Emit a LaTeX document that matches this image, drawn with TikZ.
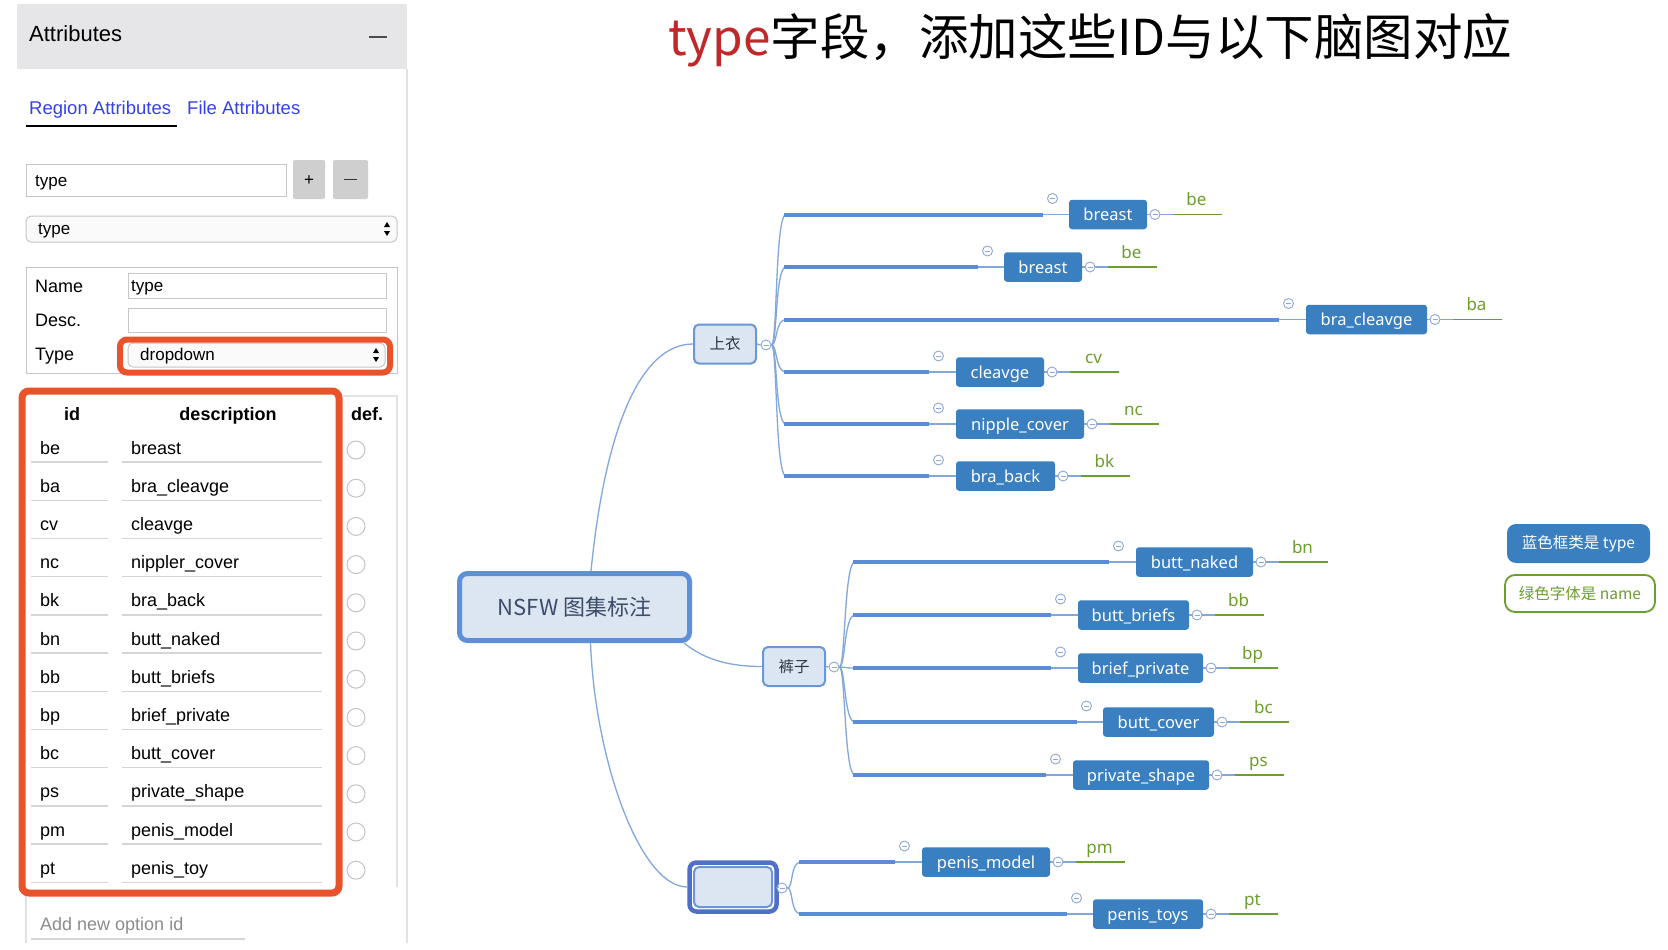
\documentclass[tikz,border=0pt]{standalone}
\usepackage{fontspec}
\setmainfont{Liberation Sans}
\newfontfamily\cjk{Noto Sans CJK SC}
\newfontfamily\mmfont{Noto Sans}
\definecolor{hdrgray}{HTML}{E6E6E8}
\definecolor{panelline}{HTML}{E2E2E2}
\definecolor{uiblue}{HTML}{3540EC}
\definecolor{boxline}{HTML}{C6C6C6}
\definecolor{btngray}{HTML}{CFCFCF}
\definecolor{redbox}{HTML}{E8532B}
\definecolor{rowline}{HTML}{D5D5D5}
\definecolor{radiocol}{HTML}{C4C4C4}
\definecolor{mmblue}{HTML}{3A7FC0}
\definecolor{mmline}{HTML}{5B8DD6}
\definecolor{mmthin}{HTML}{82A7DD}
\definecolor{mmfill}{HTML}{DCE6F3}
\definecolor{mmborder}{HTML}{6A97D8}
\definecolor{rootborder}{HTML}{5E90DA}
\definecolor{selblue}{HTML}{4F70C4}
\definecolor{collcol}{HTML}{8DA7D8}
\definecolor{namegreen}{HTML}{6C9E2E}
\definecolor{titlered}{HTML}{C0282A}
\definecolor{roottext}{HTML}{3D4B68}
\definecolor{grptext}{HTML}{2F3642}
\begin{document}
\begin{tikzpicture}[x=1pt,y=-1pt,
  ui/.style={anchor=base west,inner sep=0pt,font=\fontsize{18}{20}\selectfont},
  uibold/.style={anchor=base,inner sep=0pt,font=\bfseries\fontsize{18}{20}\selectfont},
  field/.style={draw=boxline,line width=1pt},
  rowul/.style={draw=rowline,line width=1.4pt},
  radio/.style={circle,draw=radiocol,line width=1pt,minimum size=18pt,inner sep=0pt},
  typebox/.style={fill=mmblue,rounded corners=3pt,text=white,inner sep=0pt,minimum height=29.5pt,
    font=\mmfont\fontsize{16.5}{20}\selectfont,text height=14pt,text depth=2pt},
  namelbl/.style={inner sep=0pt,text=namegreen,font=\mmfont\fontsize{17}{20}\selectfont,text height=14pt,text depth=2pt},
  grpbox/.style={draw=mmborder,fill=mmfill,line width=2pt,rounded corners=5pt,minimum width=62pt,minimum height=39pt,
    inner sep=0pt,text=grptext,font=\cjk\fontsize{15.5}{17}\selectfont},
  coll/.style={circle,draw=collcol,line width=0.9pt,fill=white,minimum size=10pt,inner sep=0pt,
    path picture={\draw[collcol,line width=0.8pt] ([xshift=-2.5pt]path picture bounding box.center) -- ([xshift=2.5pt]path picture bounding box.center);}},
  thinln/.style={draw=mmthin,line width=1.3pt},
  thickln/.style={draw=mmline,line width=4pt},
  greenln/.style={draw=namegreen,line width=1.4pt}]
\useasboundingbox (0,0) rectangle (1668,950);
\fill[white] (0,0) rectangle (1668,950);

% ---------------- left panel ----------------
\fill[hdrgray] (17,4) rectangle (407,69);
\node[anchor=base west,inner sep=0pt,font=\fontsize{22}{24}\selectfont] (hdr) at (29,42) {Attributes};
\draw[line width=2.8pt,color=black!70] (369,37) -- (387,37);
\draw[panelline,line width=1.2pt] (407,69) -- (407,943);

\node[ui,text=uiblue,font=\fontsize{18.5}{20}\selectfont] (tab1) at (29,114.5) {Region Attributes};
\node[ui,text=uiblue,font=\fontsize{18.5}{20}\selectfont] (tab2) at (187,114.5) {File Attributes};
\draw[line width=2pt] (26,126) -- (177,126);

\draw[field] (26,164) rectangle (286,196);
\node[ui,font=\fontsize{17}{20}\selectfont] (tf) at (35,186.5) {type};
\fill[btngray,rounded corners=2pt] (293,160) rectangle (325,199);
\node[inner sep=0pt,font=\fontsize{17}{20}\selectfont] (plus) at (309,181) {+};
\fill[btngray,rounded corners=2pt] (333,160) rectangle (368,199);
\draw[line width=1.2pt,black!80] (344,179.5) -- (357,179.5);

\draw[field,rounded corners=5pt,fill=black!2] (26,216) rectangle (397,242);
\node[ui,font=\fontsize{17}{20}\selectfont] (dd1) at (38,234.5) {type};
\fill (384,227) -- (390,227) -- (387,222) -- cycle;
\fill (384,231) -- (390,231) -- (387,236) -- cycle;

\draw[field] (26,267) rectangle (397,373);
\node[ui] (lname) at (35,292) {Name};
\draw[field] (128,273) rectangle (386,298);
\node[ui,font=\fontsize{17}{20}\selectfont] (vname) at (131,291.5) {type};
\node[ui] (ldesc) at (35,326) {Desc.};
\draw[field] (128,308) rectangle (386,332);
\node[ui] (ltype) at (35,360) {Type};
\draw[field,rounded corners=5pt,fill=black!2] (128,343) rectangle (385,367);
\node[ui,font=\fontsize{17}{20}\selectfont] (vtype) at (140,360.5) {dropdown};
\fill (373,353) -- (379,353) -- (376,348) -- cycle;
\fill (373,357) -- (379,357) -- (376,362) -- cycle;
\draw[redbox,line width=6pt,rounded corners=7pt] (120,339.5) rectangle (390,372.5);

% table
\draw[panelline,line width=1.2pt] (343,396) -- (397,396) -- (397,887);
\draw[panelline,line width=1.2pt] (26,893) -- (26,943);
\node[uibold] (hid) at (72,420.5) {id};
\node[uibold] (hdesc) at (228,420.5) {description};
\node[uibold] (hdef) at (367,420.5) {def.};
\foreach \i/\idt/\dsc in {0/be/breast,1/ba/bra\_cleavge,2/cv/cleavge,3/nc/nippler\_cover,4/bk/bra\_back,
  5/bn/butt\_naked,6/bb/butt\_briefs,7/bp/brief\_private,8/bc/butt\_cover,9/ps/private\_shape,
  10/pm/penis\_model,11/pt/penis\_toy}{
  \pgfmathsetmacro\ry{448+38.2*\i}
  \node[ui] (id\i) at (40,{\ry+6}) {\idt};
  \node[ui] (ds\i) at (131,{\ry+6}) {\dsc};
  \draw[rowul] (31,{\ry+14}) -- (108,{\ry+14});
  \draw[rowul] (122,{\ry+14}) -- (322,{\ry+14});
  \node[radio] (rd\i) at (356,{\ry+2}) {};
}
\draw[redbox,line width=7pt,rounded corners=7pt] (22,391) rectangle (339,893);
\node[ui,text=black!45] (addnew) at (40,930) {Add new option id};
\draw[rowul] (31,939) -- (245,939);

% ---------------- title ----------------
\node[anchor=base west,inner sep=0pt,font=\cjk\fontsize{49.5}{55}\selectfont] (title) at (668,56)
  {\textcolor{titlered}{type}字段，添加这些ID与以下脑图对应};

% ---------------- mind map ----------------
\node[draw=rootborder,fill=mmfill,line width=5pt,rounded corners=8pt,minimum width=230pt,minimum height=67pt,
  inner sep=0pt,text=roottext,font=\cjk\fontsize{22}{26}\selectfont] (root) at (574.5,607) {NSFW 图集标注};
\node[grpbox] (sy) at (725,344) {上衣};
\node[grpbox] (kz) at (794,666.5) {裤子};
\node[draw=selblue,fill=white,line width=4.5pt,rounded corners=7pt,minimum width=87pt,minimum height=49pt,inner sep=0pt] (emp) at (733,887) {};
\node[draw=mmborder,fill=mmfill,line width=2pt,rounded corners=5pt,minimum width=78pt,minimum height=40pt,inner sep=0pt] (empin) at (733,887) {};

\draw[thinln] ([xshift=16.5pt]root.north) .. controls (605,430) and (640,344) .. (sy.west);
\draw[thinln] ([xshift=-8pt]root.south east) .. controls (705,660) and (730,666.5) .. (kz.west);
\draw[thinln] ([xshift=16pt]root.south) .. controls (595,760) and (640,887) .. (emp.west);

\node[coll] (cA) at (766,345) {};
\node[coll] (cB) at (834,667) {};
\node[coll] (cC) at (782,888) {};
\draw[thinln] (sy.east) -- (cA.west);
\draw[thinln] (kz.east) -- (cB.west);
\draw[thinln] (emp.east) -- (cC.west);

\foreach \nid/\yy/\te/\bl/\br/\txt/\nm/\org/\ts in {
  b1/214.5/1043/1069/1147/breast/be/cA/784,
  b2/267/978/1004/1082/breast/be/cA/784,
  b3/319.5/1279/1306/1427/bra\_cleavge/ba/cA/784,
  b4/372/929/956/1044/cleavge/cv/cA/784,
  b5/424/929/956/1084/nipple\_cover/nc/cA/784,
  b6/476/929/956/1055/bra\_back/bk/cA/784,
  p1/562/1109/1136/1253/butt\_naked/bn/cB/853,
  p2/615/1051/1078/1189/butt\_briefs/bb/cB/853,
  p3/668/1051/1078/1203/brief\_private/bp/cB/853,
  p4/722/1077/1103/1214/butt\_cover/bc/cB/853,
  p5/775/1046/1073/1209/private\_shape/ps/cB/853,
  e1/862/895/922/1050/penis\_model/pm/cC/799,
  e2/914/1067/1093/1203/penis\_toys/pt/cC/799}{
  \node[typebox,minimum width={(\br-\bl)*1pt}] (\nid) at ({(\bl+\br)/2},\yy) {\txt};
  \coordinate (\nid-s) at (\ts,\yy);
  \draw[thinln] (\org.east) .. controls +(6,0) and ({\ts-9},\yy) .. ({\ts+2},\yy);
  \coordinate (\nid-t) at (\te,\yy);
  \draw[thickln] (\nid-s) -- (\nid-t);
  \draw[thinln] (\nid-t) -- (\nid.west);
  \node[coll] (\nid-u) at ({\te+9.5},{\yy-16}) {};
  \node[coll] (\nid-c) at ({\br+8},\yy) {};
  \draw[thinln] (\nid.east) -- (\nid-c.west);
  \coordinate (\nid-g) at ({\br+25.5},\yy);
  \coordinate (\nid-h) at ({\br+74.5},\yy);
  \draw[thinln] (\nid-c.east) -- (\nid-g);
  \draw[greenln] (\nid-g) -- (\nid-h);
  \node[namelbl] (\nid-n) at ({\br+49.5},{\yy-15}) {\nm};
}

% ---------------- legend ----------------
\node[fill=mmblue,rounded corners=9pt,minimum width=143pt,minimum height=39pt,inner sep=0pt,text=white,
  font=\cjk\fontsize{15.5}{18}\selectfont] (leg1) at (1578.5,543.5) {蓝色框类是 type};
\node[draw=namegreen,line width=1.8pt,rounded corners=10pt,minimum width=150pt,minimum height=37pt,inner sep=0pt,
  text=namegreen,font=\cjk\fontsize{15.5}{18}\selectfont] (leg2) at (1580,593.5) {绿色字体是 name};
\end{tikzpicture}
\end{document}
